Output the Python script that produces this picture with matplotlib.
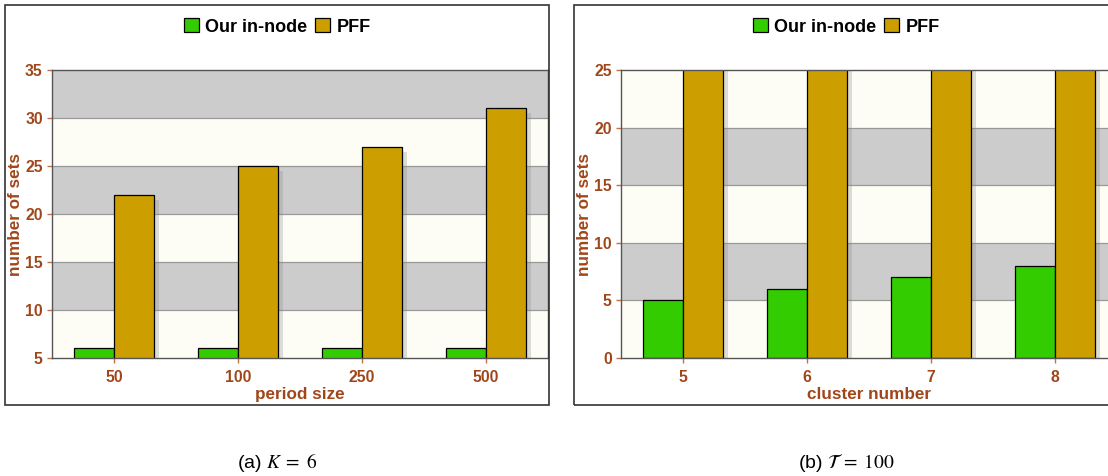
import matplotlib
matplotlib.use('Agg')
import matplotlib.pyplot as plt
import matplotlib.patheffects as pe
from matplotlib.patches import Rectangle
import numpy as np

plt.rcParams['font.family'] = ['Liberation Sans', 'DejaVu Sans']
plt.rcParams['mathtext.fontset'] = 'stix'

# (a) varying period size
period_labels = ['50', '100', '250', '500']
inode_a = [6, 6, 6, 6]
pff_a = [22, 25, 27, 31]

# (b) varying cluster number
cluster_labels = ['5', '6', '7', '8']
inode_b = [5, 6, 7, 8]
pff_b = [30, 30, 30, 30]  # clipped above 25 in the original, real value unknown

GREEN = '#33cc00'
GOLD = '#cc9e00'
BROWN = '#a0461a'
OFFWHITE = '#fdfdf5'
BAND = '#cccccc'

W, H = 1108, 476
fig = plt.figure(figsize=(W / 100, H / 100), dpi=100)


def px(x0, y0, w, h):
    # pixel box (from top-left) -> figure fraction
    return [x0 / W, (H - y0 - h) / H, w / W, h / H]


def draw_panel(ax, labels, inode, pff, ylim, xlabel):
    pos = np.arange(len(labels))
    bw = 0.32
    lo, hi = ylim
    edges = np.arange(lo, hi + 1, 5)
    for i, (a, b) in enumerate(zip(edges[:-1], edges[1:])):
        ax.axhspan(a, b, color=OFFWHITE if i % 2 == 0 else BAND, zorder=0, lw=0)
    for e in edges[1:-1]:
        ax.axhline(e, color='#999999', lw=0.9, zorder=0.5)

    shadow = [pe.SimplePatchShadow(offset=(3.6, -3.6), shadow_rgbFace='#888888', alpha=0.28),
              pe.Normal()]
    b1 = ax.bar(pos - bw / 2, inode, bw, color=GREEN, edgecolor='black', lw=0.9, zorder=2)
    b2 = ax.bar(pos + bw / 2, pff, bw, color=GOLD, edgecolor='black', lw=0.9, zorder=2)
    for b in list(b1) + list(b2):
        b.set_path_effects(shadow)

    ax.set_xlim(-0.5, len(labels) - 0.5)
    ax.set_ylim(lo, hi)
    ax.set_xticks(pos)
    ax.set_xticklabels(labels)
    ax.set_yticks(edges)
    ax.tick_params(direction='out', length=3.6, width=1, color='#c8703f',
                   labelcolor=BROWN, labelsize=11.3, pad=3)
    ax.tick_params(axis='x', pad=5)
    for t in ax.get_xticklabels() + ax.get_yticklabels():
        t.set_fontweight('bold')
    for s in ax.spines.values():
        s.set_color('#555555')
        s.set_linewidth(1.0)
    ax.set_xlabel(xlabel, color=BROWN, fontsize=12.3, fontweight='bold')
    ax.set_ylabel('number of sets', color=BROWN, fontsize=12.3, fontweight='bold')
    ax.xaxis.set_label_coords(0.5, -0.1)
    ax.yaxis.set_label_coords(-0.058, 0.5)


panels = [
    (52, 5, 'period size', period_labels, inode_a, pff_a, (5, 35),
     r'(a) $K\;=\;6$'),
    (621, 574, 'cluster number', cluster_labels, inode_b, pff_b, (0, 25),
     r'(b) $\mathcal{T}\;=\;100$'),
]

for ax_x, fr_x, xlabel, labels, inode, pff, ylim, caption in panels:
    ax = fig.add_axes(px(ax_x, 70, 496, 288))
    draw_panel(ax, labels, inode, pff, ylim, xlabel)

    frame = Rectangle((fr_x / W, (H - 405) / H), 544 / W, 400 / H,
                      transform=fig.transFigure, fill=False,
                      edgecolor='#333333', lw=1.2, zorder=5)
    fig.patches.append(frame)

    handles = [Rectangle((0, 0), 1, 1, facecolor=GREEN, edgecolor='black', lw=0.9),
               Rectangle((0, 0), 1, 1, facecolor=GOLD, edgecolor='black', lw=0.9)]
    cx = (fr_x + 272) / W
    fig.legend(handles, ['Our in-node', 'PFF'], loc='center',
               bbox_to_anchor=(cx, (H - 27) / H), ncol=2, frameon=False,
               prop={'weight': 'bold', 'size': 13}, handlelength=0.85,
               handleheight=0.8, handletextpad=0.35, columnspacing=0.4,
               borderpad=0)
    fig.text(cx, (H - 462) / H, caption, ha='center', va='center', fontsize=14)

fig.savefig('out.png', dpi=100)
